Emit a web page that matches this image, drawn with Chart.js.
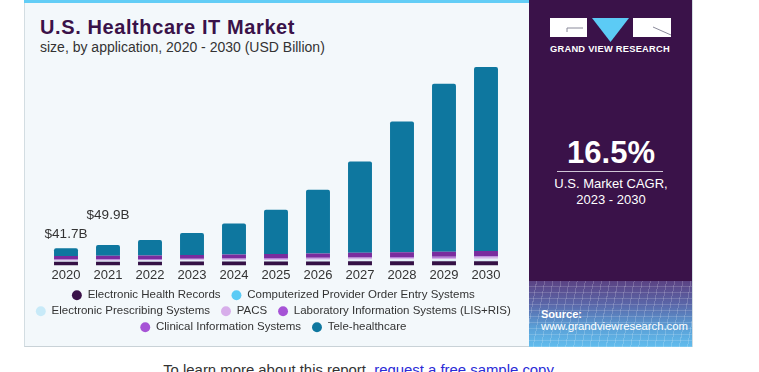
<!DOCTYPE html>
<html>
<head>
<meta charset="utf-8">
<script src="https://cdn.jsdelivr.net/npm/chart.js@4.4.1/dist/chart.umd.min.js"></script>
<style>
  html,body{margin:0;padding:0;background:#fff;width:759px;height:372px;overflow:hidden;font-family:"Liberation Sans",Arial,sans-serif;}
  #card{position:absolute;left:24px;top:0;width:669px;height:347px;background:#f3f8fb;border-left:1px solid #d3dde2;border-bottom:1px solid #c9d2d7;box-sizing:border-box;}
  #topbar{position:absolute;left:24px;top:0;width:505px;height:3px;background:#62cdf6;}
  #title{position:absolute;left:40px;top:16px;font-weight:bold;font-size:20px;color:#3a1249;white-space:nowrap;letter-spacing:0.6px;}
  #subtitle{position:absolute;left:40px;top:39px;font-size:14px;color:#333;white-space:nowrap;}
  #chartbox{position:absolute;left:25px;top:55px;width:503px;height:292px;}
  #panel{position:absolute;left:529px;top:0;width:164px;height:347px;background:#3a1249;overflow:hidden;border-right:1px solid #d3dde2;box-sizing:border-box;}
  #mesh{position:absolute;left:0;top:281px;width:164px;height:66px;
    background:
      repeating-linear-gradient(100deg, rgba(255,255,255,0.0) 0px, rgba(255,255,255,0.0) 7px, rgba(255,255,255,0.18) 7px, rgba(255,255,255,0.18) 8px),
      repeating-linear-gradient(180deg, rgba(255,255,255,0.0) 0px, rgba(255,255,255,0.0) 5px, rgba(255,255,255,0.16) 5px, rgba(255,255,255,0.16) 6px),
      linear-gradient(180deg,#5b4283 0%,#5a66a8 35%,#5a9fd6 70%,#62bdee 100%);}
  .ptext{position:absolute;color:#fff;white-space:nowrap;}
  #cagr{left:0;width:164px;text-align:center;top:135px;font-size:31px;font-weight:bold;}
  #rule{position:absolute;left:28px;width:106px;top:171px;height:1px;background:#cfc6d6;}
  #cagrlbl{left:0;width:164px;text-align:center;top:176px;font-size:13px;line-height:16px;}
  #gvr{left:21px;top:44px;font-size:9.3px;font-weight:bold;letter-spacing:0.25px;}
  #src1{left:12px;top:308px;font-size:11px;font-weight:bold;}
  #src2{left:12px;top:320px;font-size:11.3px;}
  #foot{position:absolute;left:24px;width:669px;top:362px;text-align:center;font-size:14.9px;color:#333;white-space:nowrap;}
  #foot a{color:#2b2bd6;text-decoration:none;}
</style>
</head>
<body>
<div id="card"></div>
<div id="topbar"></div>
<div id="title">U.S. Healthcare IT Market</div>
<div id="subtitle">size, by application, 2020 - 2030 (USD Billion)</div>
<div id="chartbox"><canvas id="c"></canvas></div>
<div id="panel">
  <svg style="position:absolute;left:0;top:0" width="164" height="60">
    <rect x="21" y="18" width="37" height="19" fill="#fff"/>
    <polyline points="38,28 54,28" stroke="#8a8a9a" stroke-width="1" fill="none"/>
    <polyline points="38,28 38,32" stroke="#8a8a9a" stroke-width="1" fill="none"/>
    <polygon points="63,18 100,18 81.5,42" fill="#5ccbf5"/>
    <rect x="104" y="18" width="38" height="19" fill="#fff"/>
    <polyline points="124,27 142,35" stroke="#8a8a9a" stroke-width="1" fill="none"/>
  </svg>
  <div class="ptext" id="gvr">GRAND VIEW RESEARCH</div>
  <div class="ptext" id="cagr">16.5%</div>
  <div id="rule"></div>
  <div class="ptext" id="cagrlbl">U.S. Market CAGR,<br>2023 - 2030</div>
  <div id="mesh"></div>
  <div class="ptext" id="src1">Source:</div>
  <div class="ptext" id="src2">www.grandviewresearch.com</div>
</div>
<div id="foot">To learn more about this report, <a href="#">request a free sample copy</a></div>
<script>
const years = ['2020','2021','2022','2023','2024','2025','2026','2027','2028','2029','2030'];
const seriesNames = ['Electronic Health Records','Computerized Provider Order Entry Systems','Electronic Prescribing Systems','PACS','Laboratory Information Systems (LIS+RIS)','Clinical Information Systems','Tele-healthcare'];
const ehr      = [8.7, 8.9, 9.0, 9.2, 9.3, 9.5, 9.6, 9.8, 9.9, 10.0, 10.1];
const cpoe     = [1.0, 1.1, 1.1, 1.2, 1.3, 1.4, 1.5, 1.6, 1.7, 1.8, 1.9];
const eRx      = [1.4, 1.5, 1.7, 1.9, 2.1, 2.4, 2.7, 3.0, 3.3, 3.6, 3.9];
const pacs     = [1.4, 1.5, 1.6, 1.8, 1.9, 2.1, 2.3, 2.5, 2.7, 2.9, 3.1];
const lis      = [1.9, 2.0, 2.1, 2.2, 2.3, 2.4, 2.5, 2.6, 2.8, 2.9, 3.1];
const clinical = [8.4, 8.6, 8.8, 9.2, 9.6, 10.1, 10.6, 11.1, 11.7, 12.3, 13.0];
const tele     = [18.9, 26.3, 37.4, 53.1, 75.5, 107.8, 154.8, 222.4, 317.9, 408.5, 447.9];
const totalLabels = ['$41.7B', '$49.9B'];   // shown above 2020 and 2021
const labelLift   = [14, 30];

const barColors    = ['#341145','#cfe9f6','#e6f1f8','#d3b3e6','#b77fd8','#7a2c9e','#0e779f'];
const legendColors = ['#3a1249','#5ccbf5','#c8eaf8','#d7aeea','#a653d6','#a653d6','#0e779f'];
const seriesData = [ehr, cpoe, eRx, pacs, lis, clinical, tele];
const FONT = '"Liberation Sans", Arial, sans-serif';

const datasets = seriesData.map((d, i) => ({
  label: seriesNames[i],
  data: d,
  backgroundColor: barColors[i],
  borderWidth: 0,
  borderSkipped: false,
  borderRadius: i === 6 ? {topLeft: 2, topRight: 2, bottomLeft: 0, bottomRight: 0} : 0,
  barPercentage: 0.57,
  categoryPercentage: 1.0
}));

const totalsPlugin = {
  id: 'totals',
  afterDatasetsDraw(chart) {
    const ctx = chart.ctx;
    const meta = chart.getDatasetMeta(seriesData.length - 1);
    ctx.save();
    ctx.font = '13.5px ' + FONT;
    ctx.fillStyle = '#333';
    ctx.textAlign = 'center';
    ctx.textBaseline = 'middle';
    totalLabels.forEach((t, i) => {
      const el = meta.data[i];
      ctx.fillText(t, el.x, el.y - labelLift[i]);
    });
    ctx.restore();
  }
};

const spacer = (w) => ({
  display: true,
  ticks: { display: false },
  grid: { display: false, drawTicks: false },
  border: { display: false },
  afterFit(s) { s.width = w; }
});

new Chart(document.getElementById('c'), {
  type: 'bar',
  data: { labels: years, datasets },
  plugins: [totalsPlugin],
  options: {
    responsive: true,
    maintainAspectRatio: false,
    animation: false,
    layout: { padding: { left: 0, right: 0, top: 5, bottom: 4 } },
    scales: {
      x: {
        stacked: true,
        grid: { display: false, drawTicks: false },
        border: { display: false },
        ticks: { color: '#333', font: { size: 13, family: FONT }, padding: 2, maxRotation: 0 }
      },
      y: Object.assign(spacer(20), { stacked: true, position: 'left', min: 0, max: 500 }),
      yR: Object.assign(spacer(21), { position: 'right' })
    },
    plugins: {
      tooltip: { enabled: false },
      legend: {
        position: 'bottom',
        labels: {
          color: '#333',
          font: { size: 11.5, family: FONT },
          usePointStyle: true,
          boxHeight: 7,
          boxWidth: 10,
          padding: 4.5,
          generateLabels(chart) {
            return chart.data.datasets.map((ds, i) => ({
              text: ds.label + '  ', fillStyle: legendColors[i], strokeStyle: legendColors[i],
              lineWidth: 0, pointStyle: 'circle', hidden: false, datasetIndex: i, fontColor: '#333'
            }));
          }
        }
      }
    }
  }
});
</script>
</body>
</html>
